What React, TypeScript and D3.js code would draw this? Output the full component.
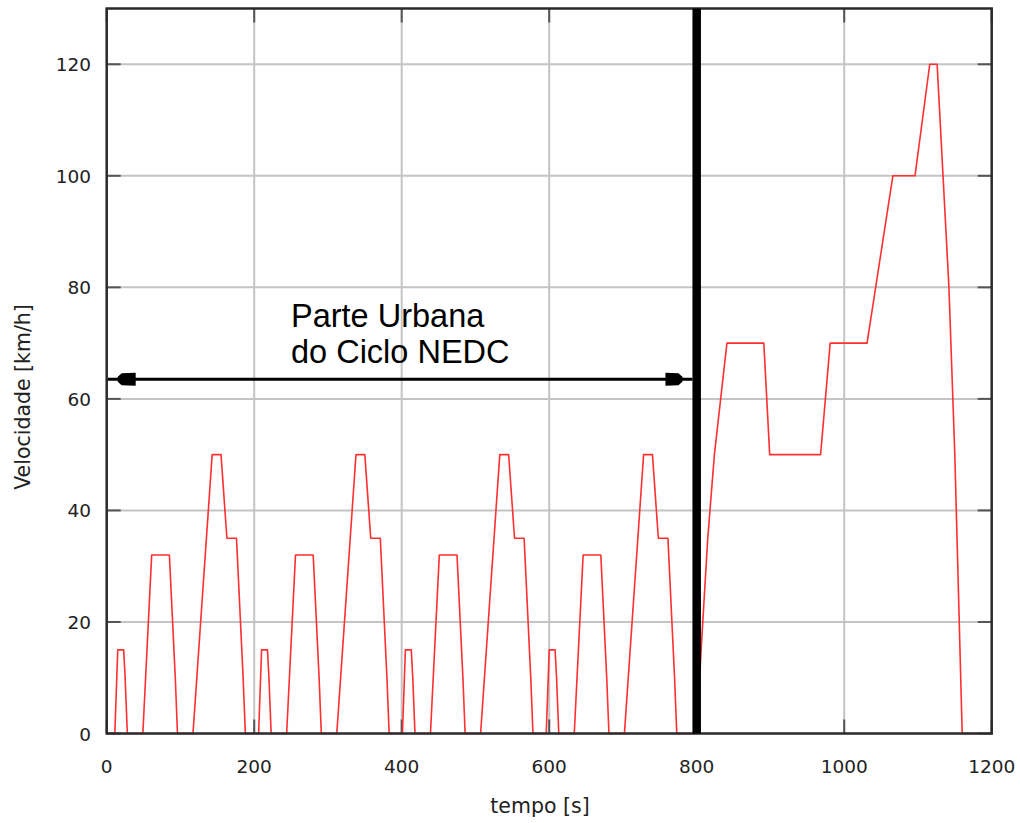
import React from "react";
import * as d3 from "d3";

// ECE-15 urban cycles (time s, speed km/h)
const ece1: [number, number][] = [
  [0, 0], [11, 0], [15, 15], [23, 15], [25, 10], [28, 0], [49, 0], [61, 32],
  [85, 32], [93, 10], [96, 0], [117, 0], [143, 50],
  [155, 50], [163, 35], [176, 35], [185, 10], [188, 0], [195, 0],
];
const ece2: [number, number][] = [
  [195, 0], [206, 0], [210, 15], [218, 15], [220, 10], [223, 0], [244, 0], [256, 32],
  [280, 32], [288, 10], [291, 0], [312, 0], [338, 50],
  [350, 50], [358, 35], [371, 35], [380, 10], [383, 0], [390, 0],
];
const ece3: [number, number][] = [
  [390, 0], [401, 0], [405, 15], [413, 15], [415, 10], [418, 0], [439, 0], [451, 32],
  [475, 32], [483, 10], [486, 0], [507, 0], [533, 50],
  [545, 50], [553, 35], [566, 35], [575, 10], [578, 0], [585, 0],
];
const ece4: [number, number][] = [
  [585, 0], [596, 0], [600, 15], [608, 15], [610, 10], [613, 0], [634, 0], [646, 32],
  [670, 32], [678, 10], [681, 0], [702, 0], [728, 50],
  [740, 50], [748, 35], [761, 35], [770, 10], [773, 0], [780, 0],
];
// EUDC extra-urban part
const eudc: [number, number][] = [
  [780, 0], [800, 0], [806, 15], [815, 35], [824, 50], [841, 70],
  [891, 70], [899, 50], [968, 50], [981, 70], [1031, 70], [1066, 100], [1096, 100], [1116, 120],
  [1126, 120], [1142, 80], [1150, 50], [1160, 0], [1180, 0],
];

const xTicks = [0, 200, 400, 600, 800, 1000, 1200];
const yTicks = [0, 20, 40, 60, 80, 100, 120];
const xDomain: [number, number] = [0, 1200];
const yDomain: [number, number] = [0, 130];
const dividerTime = 800;
const arrowSpeed = 63.5;
const titleLines = ["Parte Urbana", "do Ciclo NEDC"];
const xLabel = "tempo [s]";
const yLabel = "Velocidade [km/h]";

export default function App() {
  const W = 1020, H = 823;
  const x = d3.scaleLinear().domain(xDomain).range([106.7, 991.7]);
  const y = d3.scaleLinear().domain(yDomain).range([733.5, 8.5]);
  const line = d3.line<[number, number]>().x(d => x(d[0])).y(d => y(d[1]));
  const data = [...ece1, ...ece2.slice(1), ...ece3.slice(1), ...ece4.slice(1), ...eudc.slice(1)];

  const x0 = x(xDomain[0]), x1 = x(xDomain[1]);
  const y0 = y(yDomain[0]), y1 = y(yDomain[1]);
  const tickLen = 14;
  const font = "DejaVu Sans, sans-serif";
  const ay = y(arrowSpeed);
  const thickW = 8.5;
  const aL = x0 + 1;
  const aR = x(dividerTime) - thickW / 2;

  const headL = `M${aL + 10},${ay - 2.5} L${aL + 14},${ay - 6} L${aL + 28},${ay - 6.5} L${aL + 28},${ay + 6.5} L${aL + 14},${ay + 6} L${aL + 10},${ay + 2.5} Z`;
  const headR = `M${aR - 10},${ay - 2.5} L${aR - 14},${ay - 6} L${aR - 27},${ay - 6.5} L${aR - 27},${ay + 6.5} L${aR - 14},${ay + 6} L${aR - 10},${ay + 2.5} Z`;

  return (
    <svg width={W} height={H} style={{ position: "absolute", left: 0, top: 0, background: "#fff" }}>
      <rect x={0} y={0} width={W} height={H} fill="#fff" />
      {/* grid */}
      {xTicks.filter(t => t > xDomain[0] && t < xDomain[1]).map(t => (
        <line key={"gx" + t} x1={x(t)} x2={x(t)} y1={y1} y2={y0} stroke="#c4c4c4" strokeWidth={2} />
      ))}
      {yTicks.filter(t => t > yDomain[0]).map(t => (
        <line key={"gy" + t} x1={x0} x2={x1} y1={y(t)} y2={y(t)} stroke="#c4c4c4" strokeWidth={2} />
      ))}
      {/* ticks */}
      {xTicks.map(t => (
        <g key={"tx" + t}>
          <line x1={x(t)} x2={x(t)} y1={y0} y2={y0 - tickLen} stroke="#555" strokeWidth={2} />
          <line x1={x(t)} x2={x(t)} y1={y1} y2={y1 + tickLen} stroke="#555" strokeWidth={2} />
        </g>
      ))}
      {yTicks.map(t => (
        <g key={"ty" + t}>
          <line x1={x0} x2={x0 + tickLen} y1={y(t)} y2={y(t)} stroke="#555" strokeWidth={2} />
          <line x1={x1} x2={x1 - tickLen} y1={y(t)} y2={y(t)} stroke="#555" strokeWidth={2} />
        </g>
      ))}
      {/* data */}
      <path d={line(data) ?? ""} fill="none" stroke="#ff3030" strokeWidth={1.6} strokeLinejoin="round" />
      {/* frame */}
      <rect x={x0} y={y1} width={x1 - x0} height={y0 - y1} fill="none" stroke="#2a2a2a" strokeWidth={2.5} />
      {/* divider */}
      <line x1={x(dividerTime)} x2={x(dividerTime)} y1={y1} y2={y0} stroke="#000" strokeWidth={thickW} />
      {/* arrow */}
      <line x1={aL} x2={aR} y1={ay} y2={ay} stroke="#000" strokeWidth={3} />
      <path d={headL} fill="#000" />
      <path d={headR} fill="#000" />
      {/* title */}
      {titleLines.map((s, i) => (
        <text key={s} x={291} y={327 + i * 36} fontFamily="Liberation Sans, Arial, sans-serif" fontSize={32.5} fill="#000">{s}</text>
      ))}
      {/* tick labels */}
      {xTicks.map(t => (
        <text key={"lx" + t} x={x(t)} y={773} textAnchor="middle" fontFamily={font} fontSize={18.5} fill="#222">{t}</text>
      ))}
      {yTicks.map(t => (
        <text key={"ly" + t} x={91} y={y(t) + 7} textAnchor="end" fontFamily={font} fontSize={18.5} fill="#222">{t}</text>
      ))}
      <text x={540} y={813} textAnchor="middle" fontFamily={font} fontSize={20.5} fill="#222">{xLabel}</text>
      <text transform={`translate(30,397) rotate(-90)`} textAnchor="middle" fontFamily={font} fontSize={20.5} fill="#222">{yLabel}</text>
    </svg>
  );
}
